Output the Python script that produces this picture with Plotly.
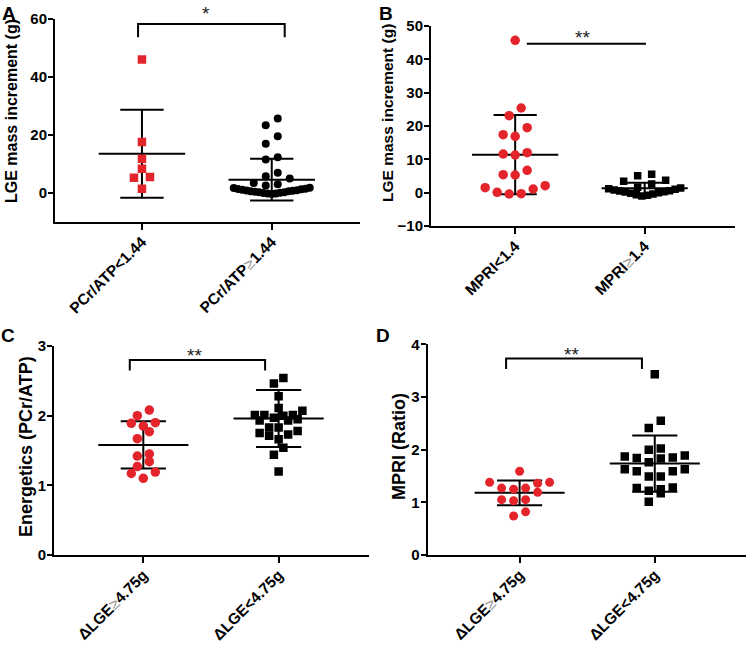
import plotly.graph_objects as go

W, H = 752, 647
RED = "#e3242b"
BLACK = "#000000"
FONT = "Liberation Sans, Arial, Helvetica, sans-serif"
GE = "<span style='color:#9a9a9a;font-weight:normal'>≥</span>"

# ---------------- data ----------------
# Panel A
a_labels = ["PCr/ATP&lt;1.44", "PCr/ATP" + GE + "1.44"]
a_low = [46.0, 17.5, 11.7, 8.3, 5.4, 5.2, 1.4]
a_high = [25.6, 23.3, 19.5, 16.9, 12.3, 11.5, 6.9, 5.7, 4.9, 3.4, 2.9, 2.5,
          1.7, 1.6, 1.4, 1.3, 1.2, 1.0, 0.9, 0.8, 0.7, 0.5, 0.5, 0.3, 0.2,
          0.2, 0.0, -0.1, -0.3, -0.3, -0.4]
a_mean = [13.5, 4.5]
a_sd = [15.2, 7.2]
a_ticks = [0, 20, 40, 60]

# Panel B
b_labels = ["MPRI&lt;1.4", "MPRI" + GE + "1.4"]
b_low = [45.7, 25.4, 23.1, 19.5, 17.4, 16.9, 12.0, 11.3, 11.6, 6.7, 5.4, 5.3,
         2.1, 1.5, 1.1, 0.1, -0.4, -0.3]
b_high = [5.5, 5.1, 3.7, 3.4, 2.6, 1.6, 1.4, 1.2, 1.0, 0.8, 0.6, 0.5, 0.3,
          0.2, 0.0, -0.2, -0.4, -0.6, -0.8, -1.0]
b_mean = [11.4, 1.3]
b_sd = [11.9, 1.7]
b_ticks = [-10, 0, 10, 20, 30, 40, 50]

# Panel C
c_labels = ["ΔLGE" + GE + "4.75g", "ΔLGE&lt;4.75g"]
c_low = [2.08, 2.00, 1.90, 1.89, 1.85, 1.77, 1.67, 1.45, 1.42, 1.34, 1.27,
         1.19, 1.17, 1.10]
c_high = [2.54, 2.46, 2.28, 2.11, 2.07, 2.01, 2.01, 2.00, 2.01, 1.97, 1.95,
          1.93, 1.93, 1.83, 1.83, 1.78, 1.75, 1.73, 1.71, 1.66, 1.54, 1.44, 1.20]
c_mean = [1.58, 1.96]
c_sd = [0.34, 0.41]
c_ticks = [0, 1, 2, 3]

# Panel D
d_labels = c_labels
d_low = [1.59, 1.38, 1.38, 1.36, 1.27, 1.27, 1.25, 1.19, 1.05, 1.05, 1.03,
         0.82, 0.74]
d_high = [3.43, 2.55, 2.41, 2.02, 2.00, 1.89, 1.87, 1.85, 1.84, 1.83, 1.76,
          1.63, 1.63, 1.59, 1.59, 1.49, 1.49, 1.28, 1.27, 1.25, 1.22, 1.17, 1.01]
d_mean = [1.18, 1.735]
d_sd = [0.235, 0.535]
d_ticks = [0, 1, 2, 3, 4]

# ---------------- layout of panels (pixels) ----------------
panels = [
    dict(key="A", x0=55, x1=360, ytop=19, ybot=221.7, yr=[-10, 60], xr=[-0.67, 1.68],
         labels=a_labels, groups=[a_low, a_high], mean=a_mean, sd=a_sd, ticks=a_ticks,
         sym=["square", "circle"], col=[RED, BLACK], msize=[8.5, 8],
         rowh=[8, 8], smax=[16, 12], wmax=[76, 76],
         bracket=(-0.03, 1.10, 58.3, 53.7), star=("*", 205.7, 13),
         title="LGE mass increment (g)", tpos=(11, 111), tsize=16,
         letter_pos=(9, 13)),
    dict(key="B", x0=431, x1=735.3, ytop=26, ybot=226, yr=[-10, 50], xr=[-0.65, 1.70],
         labels=b_labels, groups=[b_low, b_high], mean=b_mean, sd=b_sd, ticks=b_ticks,
         sym=["circle", "square"], col=[RED, BLACK], msize=[9.5, 7.5],
         rowh=[9.5, 8], smax=[12, 14], wmax=[76, 72],
         bracket=(0.09, 1.01, 44.7, None), star=("**", 582.7, 38),
         title="LGE mass increment (g)", tpos=(388, 113), tsize=15.5,
         letter_pos=(386, 13)),
    dict(key="C", x0=54, x1=369.3, ytop=346, ybot=555, yr=[0, 3], xr=[-0.66, 1.67],
         labels=c_labels, groups=[c_low, c_high], mean=c_mean, sd=c_sd, ticks=c_ticks,
         sym=["circle", "square"], col=[RED, BLACK], msize=[9.5, 8.5],
         rowh=[9.5, 9], smax=[12, 9.5], wmax=[76, 76],
         bracket=(-0.10, 0.90, 2.80, 2.65), star=("**", 195, 355),
         title="Energetics (PCr/ATP)", tpos=(26, 447), tsize=18,
         letter_pos=(8, 335)),
    dict(key="D", x0=427.7, x1=746, ytop=344.3, ybot=555, yr=[0, 4], xr=[-0.68, 1.675],
         labels=d_labels, groups=[d_low, d_high], mean=d_mean, sd=d_sd, ticks=d_ticks,
         sym=["circle", "square"], col=[RED, BLACK], msize=[9, 8.5],
         rowh=[9.5, 9], smax=[12, 12], wmax=[76, 76],
         bracket=(-0.10, 0.905, 3.73, 3.53), star=("**", 571, 354),
         title="MPRI (Ratio)", tpos=(399, 447), tsize=18,
         letter_pos=(383, 335)),
]

MEAN_HALF = 0.333
CAP_HALF = 0.167


def row_swarm(vals, ppu_y, ppu_x, row_h, s_max, w_max):
    """Prism-like scatter-dot layout: values closer than row_h px share a row and
    are spread side by side, lowest value in the centre."""
    order = sorted(range(len(vals)), key=lambda i: vals[i])
    rows, cur, start = [], [], None
    for i in order:
        if cur and (vals[i] - start) * ppu_y > row_h:
            rows.append(cur)
            cur = []
        if not cur:
            start = vals[i]
        cur.append(i)
    if cur:
        rows.append(cur)
    offs = [0.0] * len(vals)
    for r in rows:
        m = len(r)
        s = s_max if m < 2 else min(s_max, w_max / (m - 1))
        slots = sorted([(j - (m - 1) / 2) * s for j in range(m)], key=lambda x: (round(abs(x), 4), x))
        for idx, i in enumerate(r):
            offs[i] = slots[idx] / ppu_x
    return offs


fig = go.Figure()
annotations = []
layout_axes = {}

for n, p in enumerate(panels, start=1):
    xa = "x" if n == 1 else f"x{n}"
    ya = "y" if n == 1 else f"y{n}"
    xdom = [p["x0"] / W, p["x1"] / W]
    ydom = [(H - p["ybot"]) / H, (H - p["ytop"]) / H]
    ppu_y = (p["ybot"] - p["ytop"]) / (p["yr"][1] - p["yr"][0])
    ppu_x = (p["x1"] - p["x0"]) / (p["xr"][1] - p["xr"][0])

    # mean / SD lines
    xs, ys = [], []
    for c, (m, s) in enumerate(zip(p["mean"], p["sd"])):
        xs += [c - MEAN_HALF, c + MEAN_HALF, None, c, c, None,
               c - CAP_HALF, c + CAP_HALF, None, c - CAP_HALF, c + CAP_HALF, None]
        ys += [m, m, None, m - s, m + s, None, m + s, m + s, None, m - s, m - s, None]
    fig.add_trace(go.Scatter(x=xs, y=ys, mode="lines", xaxis=xa, yaxis=ya,
                             line=dict(color=BLACK, width=2), hoverinfo="skip"))

    # significance bracket
    bx0, bx1, by, bdrop = p["bracket"]
    if bdrop is None:
        bxs, bys = [bx0, bx1], [by, by]
    else:
        bxs, bys = [bx0, bx0, bx1, bx1], [bdrop, by, by, bdrop]
    fig.add_trace(go.Scatter(x=bxs, y=bys, mode="lines", xaxis=xa, yaxis=ya,
                             line=dict(color=BLACK, width=2), hoverinfo="skip"))
    stxt, sx, sy = p["star"]
    annotations.append(dict(text=stxt, x=sx / W, y=1 - sy / H, xref="paper", yref="paper",
                            showarrow=False, xanchor="center", yanchor="middle",
                            font=dict(family=FONT, size=19, color="#222")))

    # points
    for c, vals in enumerate(p["groups"]):
        offs = row_swarm(vals, ppu_y, ppu_x, p["rowh"][c], p["smax"][c], p["wmax"][c])
        fig.add_trace(go.Scatter(
            x=[c + o for o in offs], y=vals, mode="markers", xaxis=xa, yaxis=ya,
            marker=dict(symbol=p["sym"][c], size=p["msize"][c], color=p["col"][c],
                        line=dict(width=0))))

    layout_axes[("xaxis" if n == 1 else f"xaxis{n}")] = dict(
        domain=xdom, anchor=ya, range=p["xr"], tickvals=[0, 1], ticktext=p["labels"],
        tickangle=-45, showline=True, linecolor=BLACK, linewidth=2, ticks="outside",
        ticklen=6, tickwidth=2, tickcolor=BLACK, showgrid=False, zeroline=False,
        automargin=False, ticklabelstandoff=-3,
        tickfont=dict(family=FONT, size=15.5, color=BLACK, weight="bold"))
    layout_axes[("yaxis" if n == 1 else f"yaxis{n}")] = dict(
        domain=ydom, anchor=xa, range=p["yr"], tickvals=p["ticks"],
        showline=True, linecolor=BLACK, linewidth=2, ticks="outside",
        ticklen=5, tickwidth=2, tickcolor=BLACK, showgrid=False, zeroline=False,
        automargin=False, ticklabelstandoff=-2,
        tickfont=dict(family=FONT, size=15, color=BLACK, weight="bold"))

    # y title
    tx, ty = p["tpos"]
    annotations.append(dict(text=p["title"], x=tx / W, y=1 - ty / H, xref="paper", yref="paper",
                            showarrow=False, textangle=-90, xanchor="center", yanchor="middle",
                            font=dict(family=FONT, size=p["tsize"], color=BLACK, weight="bold")))
    # panel letter
    lx, ly = p["letter_pos"]
    annotations.append(dict(text=p["key"], x=lx / W, y=1 - ly / H, xref="paper", yref="paper",
                            showarrow=False, xanchor="center", yanchor="middle",
                            font=dict(family=FONT, size=19, color=BLACK, weight="bold")))

fig.update_layout(width=W, height=H,
                  margin=dict(l=0, r=0, t=0, b=0, pad=0, autoexpand=False),
                  paper_bgcolor="white", plot_bgcolor="white", showlegend=False,
                  annotations=annotations, **layout_axes)

fig.write_html("out.html", config={"displayModeBar": False},
               post_script="document.body.style.margin='0';")
